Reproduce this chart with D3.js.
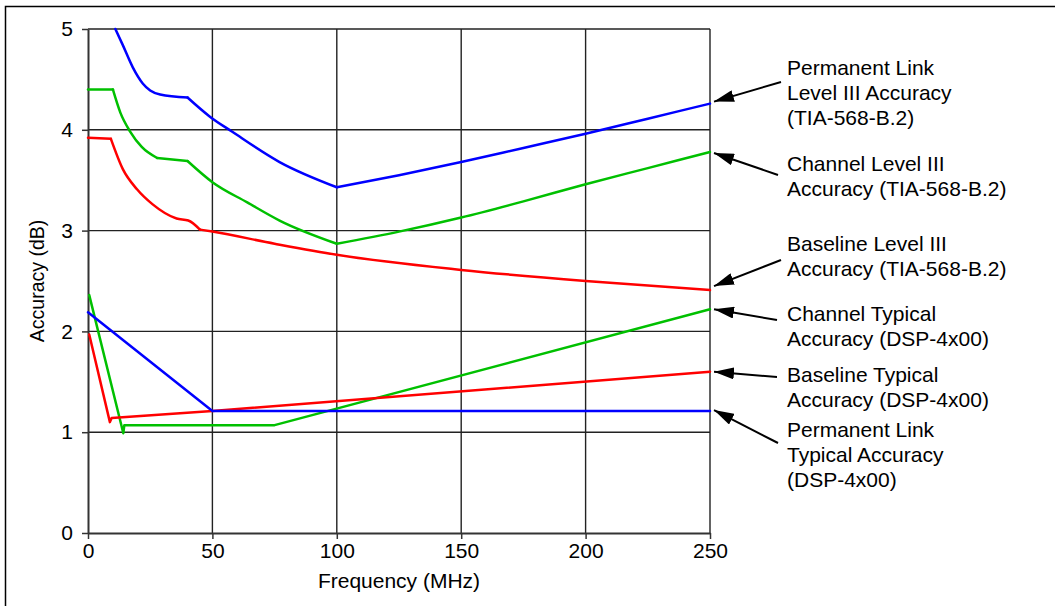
<!DOCTYPE html>
<html>
<head>
<meta charset="utf-8">
<script src="https://cdn.jsdelivr.net/npm/d3@7"></script>
<style>
  body { margin: 0; background: #fff; }
  text { font-family: "Liberation Sans", Arial, sans-serif; fill: #000; }
</style>
</head>
<body>
<div id="container"></div>
<script>
// frequencies (MHz) and accuracy (dB)
var plL3Freq = [11, 14, 18, 22, 25, 29, 40, 49, 58, 77, 100, 125, 150, 175, 200, 225, 250];
var plL3Acc  = [5.0, 4.84, 4.62, 4.46, 4.39, 4.35, 4.32, 4.13, 3.98, 3.68, 3.43, 3.55, 3.68, 3.82, 3.96, 4.11, 4.26];

var chL3Freq = [0, 10, 13, 17, 21.6, 27.8, 40, 50, 64, 77, 100, 125, 150, 175, 200, 225, 250];
var chL3Acc  = [4.40, 4.40, 4.17, 3.98, 3.83, 3.72, 3.69, 3.48, 3.28, 3.10, 2.87, 2.99, 3.13, 3.29, 3.46, 3.62, 3.78];

var blL3Freq = [0, 9.2, 14, 19.7, 26, 35.6, 40.3, 45, 50, 75, 100, 150, 200, 250];
var blL3Acc  = [3.92, 3.91, 3.61, 3.41, 3.26, 3.12, 3.10, 3.01, 2.99, 2.87, 2.76, 2.61, 2.50, 2.41];

var chTypFreq = [0.5, 14.2, 14.6, 75, 250];
var chTypAcc  = [2.36, 0.99, 1.07, 1.07, 2.22];

var blTypFreq = [0.5, 8.8, 9.5, 50, 250];
var blTypAcc  = [1.97, 1.10, 1.14, 1.21, 1.60];

var plTypFreq = [0, 50, 250];
var plTypAcc  = [2.19, 1.21, 1.21];

// frequencies where the level III limits have a corner
var plL3Corners = [40, 100];
var chL3Corners = [10, 27.8, 40, 100];
var blL3Corners = [9.2, 45];

var xTicks = [0, 50, 100, 150, 200, 250];
var yTicks = [0, 1, 2, 3, 4, 5];

var labels = [
    ["Permanent Link", "Level III Accuracy", "(TIA-568-B.2)"],
    ["Channel Level III", "Accuracy (TIA-568-B.2)"],
    ["Baseline Level III", "Accuracy (TIA-568-B.2)"],
    ["Channel Typical", "Accuracy (DSP-4x00)"],
    ["Baseline Typical", "Accuracy (DSP-4x00)"],
    ["Permanent Link", "Typical Accuracy", "(DSP-4x00)"]
];

var width = 1055, height = 606;

var svg = d3.select("#container")
    .append("svg")
    .attr("width", width)
    .attr("height", height);

// outer frame (only top/left visible)
svg.append("rect")
    .attr("x", 5.5).attr("y", 6.5)
    .attr("width", 1200).attr("height", 800)
    .attr("fill", "none")
    .attr("stroke", "#000")
    .attr("stroke-width", 1.5);

var x = d3.scaleLinear().domain([0, 250]).range([88, 710]);
var y = d3.scaleLinear().domain([0, 5]).range([533, 29]);

// grid
svg.append("g")
    .selectAll("line")
    .data(yTicks.slice(1))
    .enter().append("line")
    .attr("x1", x(0)).attr("x2", x(250))
    .attr("y1", function (d) { return y(d) })
    .attr("y2", function (d) { return y(d) })
    .attr("stroke", "#222")
    .attr("stroke-width", 1.4);

svg.append("g")
    .selectAll("line")
    .data(xTicks.slice(1))
    .enter().append("line")
    .attr("y1", y(0)).attr("y2", y(5))
    .attr("x1", function (d) { return x(d) })
    .attr("x2", function (d) { return x(d) })
    .attr("stroke", "#222")
    .attr("stroke-width", 1.4);

// axes
var xAxis = svg.append("g")
    .attr("transform", "translate(0," + y(0) + ")")
    .call(d3.axisBottom(x).tickValues(xTicks).tickFormat(d3.format("d")).tickSize(6).tickPadding(4).tickSizeOuter(0));
var yAxis = svg.append("g")
    .attr("transform", "translate(" + x(0) + ",0)")
    .call(d3.axisLeft(y).tickValues(yTicks).tickFormat(d3.format("d")).tickSize(6).tickPadding(9).tickSizeOuter(0));

[xAxis, yAxis].forEach(function (a) {
    a.select(".domain").attr("stroke", "#333").attr("stroke-width", 2);
    a.selectAll(".tick line").attr("stroke", "#333").attr("stroke-width", 1.5);
    a.selectAll(".tick text")
        .style("font-family", "Liberation Sans, Arial, sans-serif")
        .style("font-size", "21px")
        .attr("fill", "#000");
});

svg.append("text")
    .attr("x", x(125)).attr("y", 588)
    .attr("text-anchor", "middle")
    .style("font-size", "21px")
    .text("Frequency (MHz)");

svg.append("text")
    .attr("transform", "translate(44," + y(2.5) + ") rotate(-90)")
    .attr("text-anchor", "middle")
    .style("font-size", "19.5px")
    .text("Accuracy (dB)");

// curves
var series = [
    { f: plL3Freq, v: plL3Acc, c: "#0000ff", smooth: true, corners: plL3Corners },
    { f: chL3Freq, v: chL3Acc, c: "#00c000", smooth: true, corners: chL3Corners },
    { f: blL3Freq, v: blL3Acc, c: "#ff0000", smooth: true, corners: blL3Corners },
    { f: chTypFreq, v: chTypAcc, c: "#00c000", smooth: false, corners: [] },
    { f: blTypFreq, v: blTypAcc, c: "#ff0000", smooth: false, corners: [] },
    { f: plTypFreq, v: plTypAcc, c: "#0000ff", smooth: false, corners: [] }
];

var line = d3.line()
    .x(function (p) { return x(p[0]) })
    .y(function (p) { return y(p[1]) });

// split the smooth curves at their corners so the knees stay sharp
function pieces(s) {
    var pts = s.f.map(function (f, i) { return [f, s.v[i]] });
    var out = [], cur = [];
    pts.forEach(function (p) {
        cur.push(p);
        if (s.corners.indexOf(p[0]) >= 0) {
            out.push(cur);
            cur = [p];
        }
    });
    if (cur.length > 1) out.push(cur);
    return out;
}

series.forEach(function (s) {
    var g = svg.append("g");
    pieces(s).forEach(function (pc) {
        g.append("path")
            .attr("d", line.curve(s.smooth ? d3.curveMonotoneX : d3.curveLinear)(pc))
            .attr("fill", "none")
            .attr("stroke", s.c)
            .attr("stroke-width", 2.5)
            .attr("stroke-linejoin", "round")
            .attr("stroke-linecap", "round");
    });
});

// annotations
svg.append("defs").append("marker")
    .attr("id", "head")
    .attr("viewBox", "0 0 20 12")
    .attr("refX", 20).attr("refY", 6)
    .attr("markerWidth", 20).attr("markerHeight", 12)
    .attr("markerUnits", "userSpaceOnUse")
    .attr("orient", "auto")
    .append("path")
    .attr("d", "M0,0 L20,6 L0,12 Z")
    .attr("fill", "#000");

var textTop = [75, 171, 251, 321, 382, 437];
var tails = [[781, 82], [778, 175], [781, 260], [777, 320], [777, 377], [778, 443]];
var tipShift = [-2, 1, -4, 0, 0, -1];

labels.forEach(function (lines, i) {
    var s = series[i];
    var lastV = s.v[s.v.length - 1];
    svg.append("line")
        .attr("x1", tails[i][0]).attr("y1", tails[i][1])
        .attr("x2", x(250) + 4).attr("y2", y(lastV) + tipShift[i])
        .attr("stroke", "#000")
        .attr("stroke-width", 2)
        .attr("marker-end", "url(#head)");

    var t = svg.append("text")
        .attr("x", 787).attr("y", textTop[i])
        .style("font-size", "21px");
    t.selectAll("tspan")
        .data(lines)
        .enter().append("tspan")
        .attr("x", 787)
        .attr("dy", function (d, j) { return j === 0 ? 0 : 25 })
        .text(function (d) { return d });
});
</script>
</body>
</html>
